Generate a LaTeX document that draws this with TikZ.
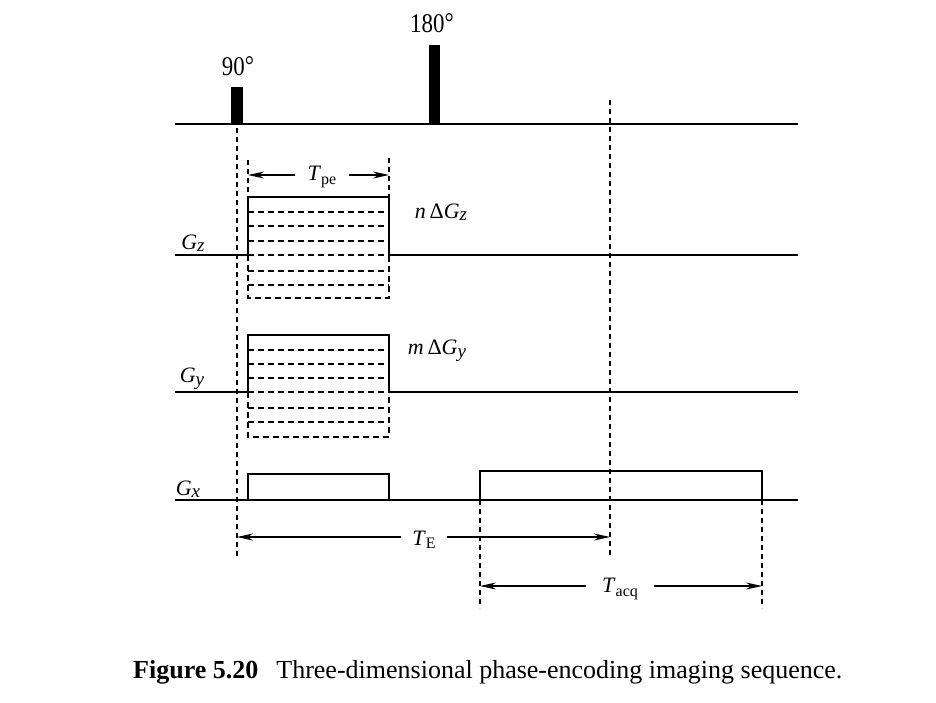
\documentclass[tikz,border=0pt]{standalone}
\usepackage{fontspec}
\setmainfont{Liberation Serif}
\newfontfamily\labfont[FakeStretch=0.85]{Liberation Serif}
\usetikzlibrary{arrows.meta}
\newcommand\lsub[1]{\raisebox{-0.35ex}{\fontsize{16}{16}\selectfont #1}}
\newcommand\gsub[1]{\raisebox{-0.25ex}{\fontsize{19}{19}\selectfont\itshape #1}}
\begin{document}
\begin{tikzpicture}[x=1pt,y=-1pt,
  axis/.style={line width=1.6pt},
  grad/.style={line width=1.5pt},
  dl/.style={line width=1.1pt, dash pattern=on 5pt off 4pt},
  gd/.style={line width=1.4pt, dash pattern=on 6pt off 4pt},
  dim/.style={line width=1.2pt, -{Stealth[length=16pt,width=7pt]}},
  lbl/.style={font=\fontsize{22}{26}\selectfont, inner sep=0pt},
  deg/.style={font=\labfont\fontsize{27}{30}\selectfont, inner sep=0pt},
  pulse/.style={fill=black, inner sep=0pt, anchor=south},
]
\useasboundingbox (0,0) rectangle (936,702);

% ---------- RF line ----------
\coordinate (rfL) at (175,124);
\coordinate (rfR) at (798,124);
\draw[axis] (rfL) -- (rfR);
\node[pulse, minimum width=12pt, minimum height=37pt] (p90) at (237,124) {};
\node[pulse, minimum width=11pt, minimum height=79pt] (p180) at (434.5,124) {};
\node[deg] (l90) at (238,66) {90\raisebox{0.1ex}{°}};
\node[deg] (l180) at (432,23) {180\raisebox{0.1ex}{°}};

% ---------- Gz ----------
\coordinate (gzL) at (175,255);
\coordinate (gzR) at (798,255);
\draw[axis] (gzL) -- (248,255);
\draw[axis] (389,255) -- (gzR);
\draw[grad] (248,255) |- (389,197) -- (389,255);
\foreach \yy in {212,226,241,255,271,285}
  \draw[gd] (248,\yy) -- (389,\yy);
\draw[gd] (248,255) |- (389,298) -- (389,255);
\node[lbl] (gz) at (193,243) {\textit{G}\gsub{z}};
\node[lbl] (ngz) at (441,212) {\textit{n}\,Δ\textit{G}\gsub{z}};

% T_pe
\draw[dl] (248,160) -- (248,197);
\draw[dl] (389,158) -- (389,197);
\coordinate (tpeL) at (248,175);
\coordinate (tpeR) at (389,175);
\node[lbl, inner xsep=12pt] (tpe) at (322,177) {\textit{T}\lsub{pe}};
\draw[dim] (tpe.west |- tpeL) -- (tpeL);
\draw[dim] (tpe.east |- tpeR) -- (tpeR);

% ---------- Gy ----------
\coordinate (gyL) at (175,392);
\coordinate (gyR) at (798,392);
\draw[axis] (gyL) -- (248,392);
\draw[axis] (389,392) -- (gyR);
\draw[grad] (248,392) |- (389,335) -- (389,392);
\foreach \yy in {350,364,378,392,408,422}
  \draw[gd] (248,\yy) -- (389,\yy);
\draw[gd] (248,392) |- (389,437) -- (389,392);
\node[lbl] (gy) at (192,379) {\textit{G}\gsub{y}};
\node[lbl] (mgy) at (437,351) {\textit{m}\,Δ\textit{G}\gsub{y}};

% ---------- Gx ----------
\coordinate (gxL) at (175,500);
\coordinate (gxR) at (798,500);
\draw[axis] (gxL) -- (gxR);
\draw[grad] (248,500) |- (389,474) -- (389,500);
\draw[grad] (480,500) |- (762,471) -- (762,500);
\node[lbl] (gx) at (188,489) {\textit{G}\gsub{x}};

% ---------- dashed time markers ----------
\coordinate (v90a) at (237,128);
\coordinate (v90b) at (237,556);
\draw[dl] (v90a) -- (v90b);
\coordinate (vTEa) at (610,100);
\coordinate (vTEb) at (610,556);
\draw[dl] (vTEa) -- (vTEb);
\draw[dl] (480,500) -- (480,608);
\draw[dl] (762,500) -- (762,608);

% T_E
\coordinate (teL) at (237,537);
\coordinate (teR) at (610,537);
\node[lbl, inner xsep=11pt] (te) at (424,540) {\textit{T}\lsub{E}};
\draw[dim] (te.west |- teL) -- (teL);
\draw[dim] (te.east |- teR) -- (teR);

% T_acq
\coordinate (taL) at (480,586);
\coordinate (taR) at (762,586);
\node[lbl, inner xsep=16pt] (tacq) at (620,589) {\textit{T}\lsub{acq}};
\draw[dim] (tacq.west |- taL) -- (taL);
\draw[dim] (tacq.east |- taR) -- (taR);

% ---------- caption ----------
\node[anchor=base west, inner sep=0pt, font=\fontsize{26}{30}\selectfont] (cap) at (133,678)
  {\textbf{Figure 5.20}\hspace{18pt}Three-dimensional phase-encoding imaging sequence.};
\end{tikzpicture}
\end{document}
